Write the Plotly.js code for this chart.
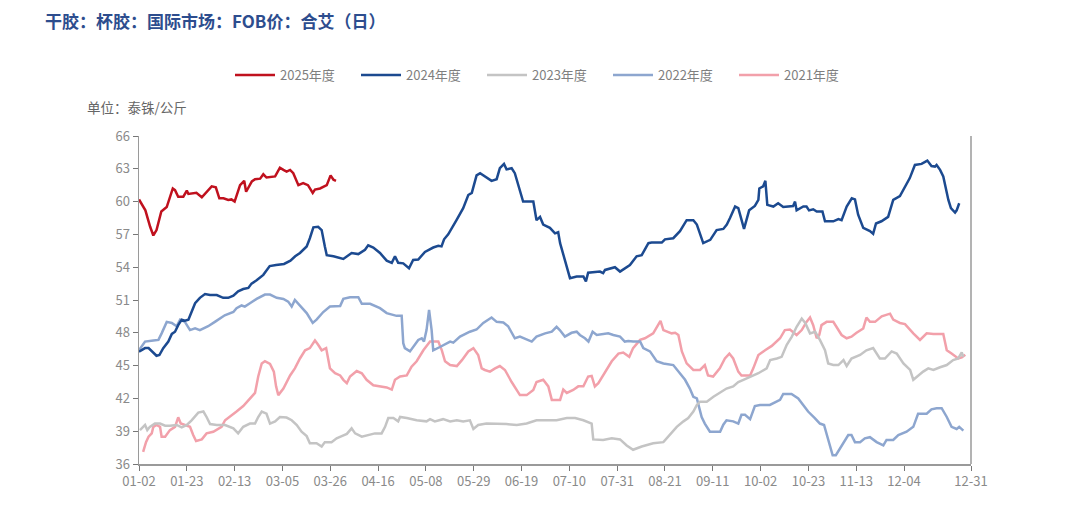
<!DOCTYPE html>
<html>
<head>
<meta charset="utf-8">
<script src="https://cdn.plot.ly/plotly-3.0.1.min.js"></script>
<style>html,body{margin:0;padding:0;background:#fff}#chart{width:1080px;height:518px}</style>
</head>
<body>
<div id="chart"></div>
<script>
// x = trading-day index within the year (0 = 01-02)
const tickIdx = [0,15,30,45,60,75,90,105,120,135,150,165,180,195,210,225,240,261];
const tickLabels = ["01-02","01-23","02-13","03-05","03-26","04-16","05-08","05-29","06-19","07-10","07-31","08-21","09-11","10-02","10-23","11-13","12-04","12-31"];

const x2025 = [0,2,3.5,4.5,5.5,7,8.7,9.7,10.6,11.3,12.3,13.9,15,15.5,18,19.7,21.2,22.8,24.1,25.2,26.5,28,29,30,31.7,33,33.6,35.4,36.4,38,39,40,42.7,44.2,45.3,46.3,47.4,48.4,50,51.5,53,54.5,55.2,56.8,58.9,60.1,61,61.8];
const y2025 = [60.2,59.2,57.7,56.9,57.4,59.1,59.5,60.3,61.2,61.05,60.45,60.45,61.0,60.7,60.8,60.4,60.9,61.4,61.3,60.3,60.3,60.15,60.2,60.0,61.5,61.9,60.9,61.85,62.05,62.1,62.5,62.2,62.3,63.1,62.9,62.75,62.9,62.6,61.5,61.7,61.5,60.8,61.1,61.2,61.5,62.4,62.0,61.9];

const x2024 = [0,1.9,3,4,5.5,6.4,7.6,9.2,10.3,11.3,12.3,13.4,14.4,15.5,16.5,17.6,19.1,20.7,22.3,24.4,26.4,28,29.6,31.1,32.7,34.3,35.3,36.9,39,41,43,45.5,47.5,49,50.5,52.6,53.6,54.7,56.2,57.3,58.3,58.9,61,64.1,66.7,68.8,70.9,71.9,73.5,75.6,77.7,79.3,80.3,81.3,82.9,84.7,86,87.6,89.7,92.3,93.9,94.9,95.7,97,99.6,101.7,103.3,104.4,105.9,107,110.6,112.2,113.2,114.5,115.3,116.9,117.9,119,120.5,121.6,123.7,124.7,125.8,126.8,128.9,130.5,131.5,132.1,135.2,137.3,139.4,140.2,140.9,144.6,145.6,146.2,149.3,150.9,154,156.1,157.7,159.8,160.8,164,165,167.6,169.7,171.8,173.9,175,177,179.2,181.2,183.3,184.4,185.4,187,188,189.8,191.4,193.2,194.3,194.6,195.8,196.5,197.1,199,200.5,202.1,205.2,205.8,206.3,208.4,209.4,210.2,211.5,212.6,214.4,215.2,217.8,219.4,220.4,222,223.6,224.6,225.6,227.2,229.3,230.3,231.2,232.9,235,236.6,238.7,240.3,241.8,243.4,245.5,247.3,248.6,249.7,250.2,251.3,252.3,253.9,254.7,256,256.5,257.3];
const y2024 = [46.27,46.6,46.6,46.3,45.9,45.97,46.6,47.2,47.9,48.1,48.7,49.2,49.1,49.2,49.9,50.7,51.2,51.55,51.45,51.45,51.2,51.2,51.4,51.8,52.0,52.1,52.5,52.8,53.3,54.1,54.2,54.3,54.6,55.0,55.3,55.9,56.65,57.65,57.7,57.4,55.9,55.1,55.0,54.75,55.3,55.2,55.6,56.0,55.8,55.3,54.6,54.4,55.0,54.4,54.35,53.9,54.66,54.7,55.4,55.8,55.95,55.9,56.55,57.0,58.3,59.4,60.6,60.8,62.4,62.6,61.9,62.05,63.05,63.45,62.95,63.05,62.6,61.4,60.0,60.0,60.0,58.3,58.6,57.9,57.6,57.1,57.2,56.2,53.0,53.15,53.15,52.7,53.5,53.6,53.45,53.75,54.0,53.6,54.2,55.0,55.1,56.2,56.25,56.25,56.55,56.65,57.3,58.3,58.3,57.9,56.2,56.5,57.4,57.5,57.9,58.5,59.55,59.4,57.5,59.2,59.6,60.15,61.2,61.4,61.9,59.7,59.55,59.85,59.5,59.6,60.0,59.2,59.55,59.55,59.2,59.3,59.1,59.1,58.2,58.2,58.4,58.3,59.55,60.3,60.2,58.8,57.6,57.3,57.05,58.0,58.2,58.6,60.15,60.5,61.4,62.15,63.35,63.45,63.75,63.25,63.2,63.35,62.9,62.3,60.15,59.4,59.0,59.2,59.85];

const x2023 = [0.3,1.9,2.6,3.4,5,6.6,8.2,9.7,11.8,13.4,15,16.5,18.6,20.2,21.2,22.3,24.4,27,29.6,31.1,32.7,34.8,36.4,37.4,38.5,40,41.1,42.7,44.2,46.3,47.9,49.5,51,52.6,53.6,55.7,57.3,58.3,60.4,62,63.6,65.2,66.7,67.8,69.9,71.9,74,76.1,77.2,78.2,79.8,81.3,81.9,84,87.1,90.2,91.3,92.8,95.4,97.6,99.7,101.7,103.8,104.9,106.4,109,112.2,115.3,118.5,121.6,124.7,127.9,131,134.2,136.8,139.4,142,142.5,145.6,148.3,150.9,153,155,157.7,161.3,164.5,166.1,168.7,170.8,172.3,173.9,175,176,178.1,180.2,181.7,184.3,186.4,188,189.6,192.2,194.3,196.9,198,200.1,201.6,203.2,204.8,206.3,207.9,209,210.5,212.1,213.6,215.2,216.2,217.8,219.4,221,222,223.5,226.2,228.2,230.3,232.4,234,236.1,237.7,239.8,241.9,242.9,244.4,246,247.6,249.2,251.3,253.4,255.4,257,258.1,258.6];
const y2023 = [39.1,39.57,39.1,39.4,39.7,39.7,39.5,39.5,39.57,39.35,39.57,40.0,40.7,40.8,40.3,39.65,39.57,39.57,39.26,38.8,39.4,39.7,39.7,40.3,40.8,40.6,39.7,39.9,40.3,40.25,40.0,39.57,38.95,38.55,37.9,37.9,37.6,38.0,38.0,38.35,38.55,38.75,39.26,38.8,38.5,38.65,38.8,38.8,39.4,40.2,40.2,39.9,40.3,40.2,40.0,39.9,40.1,39.9,40.1,39.9,40.0,39.9,40.0,39.2,39.57,39.7,39.7,39.65,39.57,39.7,40.0,40.0,40.0,40.2,40.2,40.0,39.7,38.25,38.2,38.35,38.25,37.7,37.3,37.6,37.9,38.0,38.5,39.4,39.9,40.2,40.8,41.4,41.7,41.7,42.15,42.45,42.9,43.1,43.5,43.7,44.0,44.3,44.75,45.5,45.65,45.8,46.9,47.65,48.55,49.3,48.9,47.95,48.1,47.35,46.4,45.2,45.05,45.05,45.5,44.96,45.65,45.97,46.4,46.6,45.65,45.65,46.3,46.1,45.2,44.6,43.7,44.1,44.45,44.75,44.6,44.85,45.05,45.5,45.65,46.2,45.8];

const x2022 = [0,1.9,4.5,6.1,7.1,8.7,10.3,11.8,12.9,14.4,16,17.6,19.1,21.7,23.8,26.9,29.6,30.6,32.2,33.2,34.8,36.9,39.5,41.1,43.2,45.3,46.8,47.9,48.9,50.5,52.6,54.5,55.7,57.8,59.9,63.1,64.1,66.2,68.8,69.9,72.5,75.6,77.7,80.8,82.4,82.9,83.4,85,86.6,87.6,88.7,89.4,90.2,91,91.8,92.3,94.4,96.5,97.6,98.6,100.7,103.8,105.9,108,110.6,112.2,114.3,115.8,117.9,119.5,121.6,123.2,124.7,127.4,129.5,131,132,133.6,135.7,137.3,138.3,139.9,141,142.3,143.6,147.2,148.8,150.9,152.4,153.5,155,157.2,158.2,160.3,162.4,164.5,167.6,169.2,171.3,172.8,173.9,175,176.5,177.5,179.1,182.3,183.3,184.3,186.4,188,189,190.1,191.7,193.2,194.8,197.9,201.1,202.1,204.7,206.8,208.4,209.9,212,213.6,214.9,216.2,217.6,218.6,220.4,222.5,223.5,224.6,226.2,227.7,229.3,231.4,233.5,234.5,236.6,238.2,240.8,242.9,244.4,247.1,248.6,250.2,251.8,253.4,254.9,256.5,257.3,258.6];
const y2022 = [46.4,47.2,47.3,47.35,47.95,49.0,48.9,48.6,49.2,49.0,48.25,48.4,48.25,48.6,49.0,49.6,49.9,50.25,50.5,50.4,50.7,51.1,51.5,51.5,51.2,51.1,50.85,50.4,51.0,50.5,49.8,48.9,49.2,49.9,50.4,50.45,51.1,51.25,51.25,50.65,50.65,50.25,49.8,49.55,49.55,47.05,46.6,46.3,46.9,47.35,47.5,47.2,48.25,50.1,48.25,46.4,46.7,47.05,47.2,47.1,47.65,48.1,48.3,48.9,49.4,49.0,48.95,48.6,47.5,47.65,47.4,47.2,47.65,47.95,48.1,48.55,48.25,47.65,48.0,48.1,47.8,47.5,47.2,48.1,47.8,47.95,47.8,47.65,47.2,47.25,47.2,47.2,46.6,46.3,45.4,45.2,45.05,44.45,43.7,42.9,42.15,42.0,40.3,39.7,38.95,38.95,39.6,40.0,39.9,39.7,40.5,40.5,40.1,41.3,41.4,41.4,41.86,42.4,42.4,42.0,41.4,40.8,40.2,39.7,39.57,38.2,36.8,36.8,37.6,38.65,38.65,38.0,38.0,38.35,38.45,38.0,37.7,38.2,38.2,38.65,38.95,39.4,40.6,40.6,41.0,41.1,41.1,40.3,39.4,39.2,39.4,39.05];

const x2021 = [1.3,2.2,3,4,4.5,5.5,6.6,7.1,8.2,9.7,11.3,11.8,12.3,13.1,14.4,16,17,17.9,19.7,21.2,23.3,24.9,25.9,27,28.5,30.6,32.7,34.8,36.4,37.4,38.5,39.5,41.1,42.3,43,43.7,45.3,47.4,48.9,50.5,52.1,53.6,55.2,56.2,57.3,58.7,59.9,61.5,63.1,64.1,65.2,66.2,68.3,69.9,71.4,73.5,75.6,77.7,79.3,80.3,81.9,84,85.5,87.1,89.2,90.7,91.3,93.9,95,96,97.6,99.7,101.3,103.3,104.9,106.4,107.5,108.5,110.1,111.7,113.2,114.8,116.9,119.5,121.6,123.7,124.7,126.8,128.4,129.5,132.1,133.1,134.2,136.2,137.8,139.4,140.9,142,143,144.1,146.2,148.3,150.4,151.9,153.8,155,157.2,158.7,161.3,162.6,163.6,164.5,165.6,167.1,168.2,169.2,170.3,171.8,173.9,176,177.5,178.5,180.1,182.2,183.8,185.2,186.4,188,189,191.7,192.7,194.3,196.4,198.5,201.1,202.6,204.2,206.3,207.9,209.4,210.5,211.5,212.6,213.4,214.1,215.7,217.8,218.8,220.4,222,223.5,225.1,227.2,228.2,229.3,230.9,233,235.6,236.6,238.7,240.3,242.9,245,247.1,249.2,252.3,253.4,254.9,257,258.1,259.2];
const y2021 = [37.1,38.0,38.5,38.8,39.4,39.57,39.4,38.5,38.5,39.1,39.4,39.9,40.27,39.7,39.57,39.4,38.65,38.1,38.25,38.8,38.95,39.26,39.4,40.0,40.3,40.8,41.3,42.0,42.5,44.0,45.2,45.4,45.15,44.45,43.1,42.3,42.9,44.1,44.75,45.65,46.4,46.6,47.3,46.9,46.4,46.6,44.75,44.3,44.1,43.7,43.4,44.0,44.5,44.3,43.7,43.2,43.1,43.0,42.8,43.7,44.0,44.1,44.9,45.4,46.4,46.98,47.2,47.2,46.4,45.4,45.05,44.96,45.5,46.3,46.6,45.97,44.75,44.6,44.45,44.75,44.96,44.6,43.5,42.3,42.3,42.77,43.5,43.7,43.1,41.86,41.86,42.8,42.5,42.77,43.1,43.1,44.0,44.05,43.1,43.4,44.45,45.4,46.1,46.2,45.8,46.6,47.35,47.5,47.95,48.55,49.1,48.25,48.1,47.95,48.0,47.8,46.3,45.2,44.6,44.6,45.05,44.1,44.0,44.75,45.65,46.1,45.65,44.45,44.1,44.1,44.75,45.97,46.4,46.8,47.5,48.25,48.3,47.8,48.25,49.0,49.4,48.7,47.5,47.8,48.7,49.0,49.0,48.55,47.8,47.5,47.65,48.0,48.4,49.4,49.0,49.0,49.5,49.75,49.2,48.9,48.8,47.95,47.35,47.95,47.9,47.9,46.4,46.1,45.65,45.75,46.0];

const seriesNames = ["2025年度","2024年度","2023年度","2022年度","2021年度"];
const seriesColors = ["#C0111E","#1C4A90","#C4C4C4","#8DA6CF","#F2A0AA"];
const xs = [x2025,x2024,x2023,x2022,x2021];
const ys = [y2025,y2024,y2023,y2022,y2021];

const traces = [];
for (let k = seriesNames.length - 1; k >= 0; k--) {
  traces.push({
    type: 'scatter', mode: 'lines', name: seriesNames[k],
    x: xs[k], y: ys[k],
    line: {color: seriesColors[k], width: 2.5},
    legendrank: k + 1, hoverinfo: 'skip'
  });
}

const layout = {
  width: 1080, height: 518,
  margin: {l: 139, r: 109, t: 136, b: 54},
  paper_bgcolor: '#fff', plot_bgcolor: '#fff',
  font: {family: '"Noto Sans CJK SC", "Noto Sans", sans-serif', color: '#8a8a8a', size: 13},
  title: {
    text: '<b>干胶：杯胶：国际市场：FOB价：合艾（日）</b>',
    xref: 'container', x: 45/1080, xanchor: 'left',
    yref: 'container', y: 1 - 22/518, yanchor: 'middle',
    font: {family: '"Noto Sans CJK SC", sans-serif', size: 17, color: '#2D4D8E'}
  },
  showlegend: true,
  legend: {
    orientation: 'h', xref: 'container', yref: 'container',
    x: 230/1080, xanchor: 'left', y: 1 - 75/518, yanchor: 'middle',
    font: {size: 13, color: '#7f7f7f'},
    entrywidth: 71, entrywidthmode: 'pixels', itemwidth: 40,
    traceorder: 'normal', bgcolor: 'rgba(0,0,0,0)'
  },
  xaxis: {
    range: [0, 261], tickmode: 'array', tickvals: tickIdx, ticktext: tickLabels,
    showgrid: false, zeroline: false, showline: true, linecolor: '#9a9a9a', linewidth: 1.5,
    ticks: 'outside', ticklen: 5, tickcolor: '#777', tickfont: {size: 13, color: '#8a8a8a'}
  },
  yaxis: {
    range: [36, 66], dtick: 3, tick0: 36,
    showgrid: false, zeroline: false, showline: true, linecolor: '#9a9a9a', linewidth: 1.5,
    ticks: 'outside', ticklen: 5, tickcolor: '#777', tickfont: {size: 13, color: '#8a8a8a'}
  },
  shapes: [{type: 'line', xref: 'paper', yref: 'paper', x0: 1, x1: 1, y0: 0, y1: 1, line: {color: '#9a9a9a', width: 1.5}}],
  annotations: [{
    text: '单位：泰铢/公斤', xref: 'paper', yref: 'paper', x: (85-139)/832, xanchor: 'left',
    y: 1 + (136-107)/328, yanchor: 'middle', showarrow: false,
    font: {size: 13.5, color: '#666'}
  }]
};

Plotly.newPlot('chart', traces, layout, {staticPlot: true, displayModeBar: false});
</script>
</body>
</html>
